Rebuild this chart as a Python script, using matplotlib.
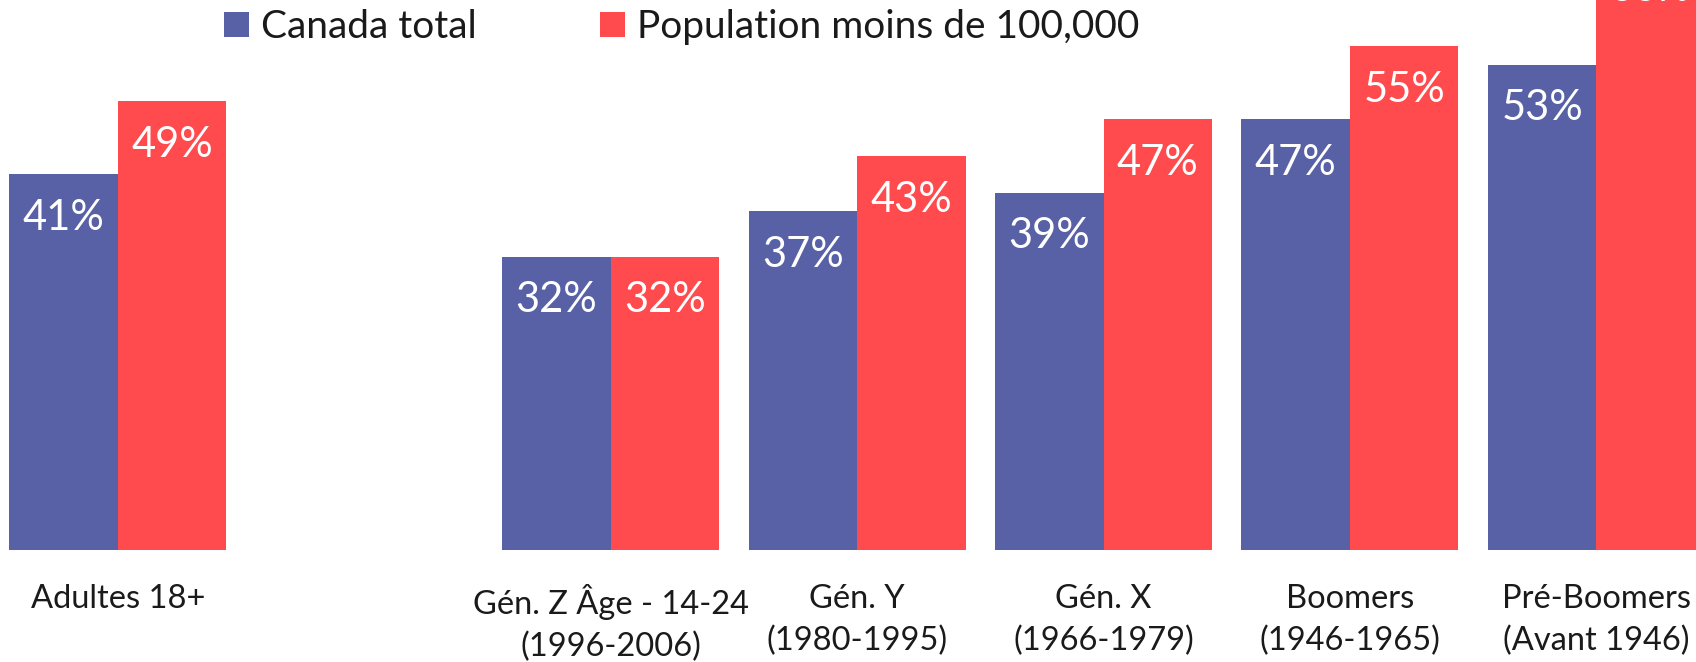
import matplotlib
matplotlib.use("Agg")
import matplotlib.pyplot as plt
from matplotlib.patches import Patch
import numpy as np

categories = ["Adultes 18+", "", "Gén. Z Âge - 14-24\n(1996-2006)", "Gén. Y\n(1980-1995)",
              "Gén. X\n(1966-1979)", "Boomers\n(1946-1965)", "Pré-Boomers\n(Avant 1946)"]
canada_total = [41, None, 32, 37, 39, 47, 53]
pop_moins_100k = [49, None, 32, 43, 47, 55, 66]
series_names = ["Canada total", "Population moins de 100,000"]
colors = ["#5860A6", "#FF4B4D"]

plt.rcParams['font.family'] = ['Lato', 'DejaVu Sans']

W, H = 1696, 662
fig = plt.figure(figsize=(W / 100, H / 100), dpi=100)
px_per_pct = 9.15
bottom_px = 112.5
ymax = 70
ax = fig.add_axes([0, bottom_px / H, 1, ymax * px_per_pct / H])

x = np.arange(len(categories))
bw = 0.44
for vals, off, col in [(canada_total, -bw / 2, colors[0]), (pop_moins_100k, bw / 2, colors[1])]:
    xs = [xi + off for xi, v in zip(x, vals) if v is not None]
    vs = [v for v in vals if v is not None]
    bars = ax.bar(xs, vs, width=bw, color=col, edgecolor='none')
    for b, v in zip(bars, vs):
        ax.annotate(f"{v}%", (b.get_x() + b.get_width() / 2, v), xytext=(0, -31.5),
                    textcoords='offset points', ha='center', va='center',
                    color='white', fontsize=30)

spacing = 246.4
left = -117.9 / spacing
ax.set_xlim(left, left + W / spacing)
ax.set_ylim(0, ymax)
ax.set_xticks(x)
ax.set_xticklabels(categories, fontsize=23.5, linespacing=1.47, color='#1a1a1a')
ax.tick_params(axis='x', length=0, pad=25)
ax.set_yticks([])
for s in ax.spines.values():
    s.set_visible(False)

handles = [Patch(facecolor=c, edgecolor='none') for c in colors]
fs = 28
fpx = fs * 100 / 72
fig.legend(handles, series_names, loc='center left',
           bbox_to_anchor=(224 / W, 1 - 27 / H), ncol=2, frameon=False,
           prop={'size': fs},
           handlelength=25 / fpx, handleheight=24 / fpx, handletextpad=12 / fpx,
           columnspacing=123 / fpx, borderpad=0, borderaxespad=0,
           labelcolor='#1a1a1a')

fig.savefig("out.png", dpi=100)
